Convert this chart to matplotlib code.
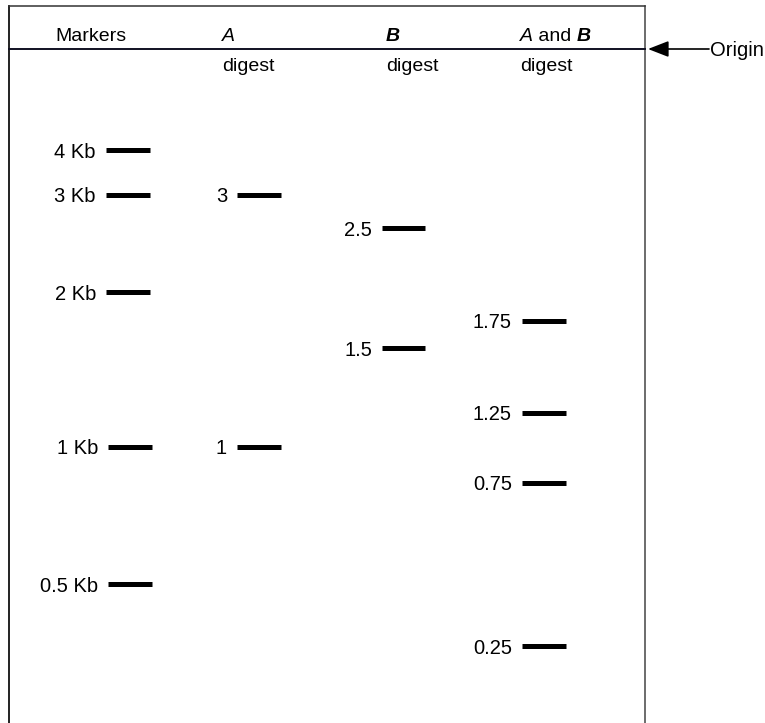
# gel diagram: markers, A digest, B digest, A and B digest

import matplotlib.pyplot as plt

plt.rcParams['font.family'] = ['Liberation Sans', 'DejaVu Sans']

# lane headers
lane_names = ['Markers', 'A', 'B', 'A and B']
lane_sub = ['', 'digest', 'digest', 'digest']

# band sizes (Kb) and migration below origin (px)
marker_labels = ['4 Kb', '3 Kb', '2 Kb', '1 Kb', '0.5 Kb']
marker_migration = [101, 146, 243, 398, 535]

a_labels = ['3', '1']
a_migration = [146, 398]

b_labels = ['2.5', '1.5']
b_migration = [179, 299]

ab_labels = ['1.75', '1.25', '0.75', '0.25']
ab_migration = [272, 364, 434, 597]

# layout (pixels)
W, H = 765, 723
origin_y = 49
box_left, box_right, box_top = 9, 645, 6
band_x = [(106, 150), (237, 281), (382, 425), (522, 566)]
header_x = [55, 222, 386, 520]
hfs = 14     # header font size
lfs = 14.5   # band label font size

fig = plt.figure(figsize=(W / 100, H / 100), dpi=100)
ax = fig.add_axes([0, 0, 1, 1])
ax.set_xlim(0, W)
ax.set_ylim(H, 0)
ax.axis('off')

# gel outline
ax.plot([box_left, box_left], [H + 5, box_top], color='#111111', lw=1.3)
ax.plot([box_right, box_right], [H + 5, box_top], color='#444444', lw=1.1)
ax.plot([box_left, box_right], [box_top, box_top], color='#333333', lw=1.1)
ax.plot([box_left, box_right], [origin_y, origin_y], color='#111122', lw=1.4)

# headers
for i, name in enumerate(lane_names):
    y0 = 41
    if name == 'Markers':
        ax.text(header_x[i], y0, name, fontsize=hfs, ha='left', va='baseline')
    elif name == 'A and B':
        t = ax.text(header_x[i], y0, 'A', fontsize=hfs, style='italic',
                    ha='left', va='baseline')
        t2 = ax.annotate(' and ', xycoords=t, xy=(1, 0), fontsize=hfs,
                         ha='left', va='bottom')
        ax.annotate('B', xycoords=t2, xy=(1, 0), fontsize=hfs, style='italic',
                    weight='bold', ha='left', va='bottom')
    else:
        ax.text(header_x[i], y0, name, fontsize=hfs, style='italic',
                weight='bold' if name == 'B' else 'normal',
                ha='left', va='baseline')
    if lane_sub[i]:
        ax.text(header_x[i], 71, lane_sub[i], fontsize=hfs, ha='left',
                va='baseline')

# bands
lanes = [(marker_labels, marker_migration), (a_labels, a_migration),
         (b_labels, b_migration), (ab_labels, ab_migration)]
for i, (labels, mig) in enumerate(lanes):
    x0, x1 = band_x[i]
    for lab, m in zip(labels, mig):
        y = origin_y + m
        dx = 2 if (i == 0 and m > 300) else 0
        ax.plot([x0 + dx, x1 + dx], [y, y], color='black', lw=3.6,
                solid_capstyle='butt')
        ax.text(x0 + dx - 10, y, lab, fontsize=lfs, ha='right',
                va='center_baseline')

# origin arrow
ax.annotate('', xy=(648, origin_y), xytext=(709, origin_y),
            arrowprops=dict(arrowstyle='-|>,head_length=0.9,head_width=0.35',
                            color='black', lw=1.2, mutation_scale=14,
                            shrinkA=0, shrinkB=0))
ax.text(710, origin_y, 'Origin', fontsize=lfs, ha='left', va='center_baseline')

fig.savefig('out.png', dpi=100)
